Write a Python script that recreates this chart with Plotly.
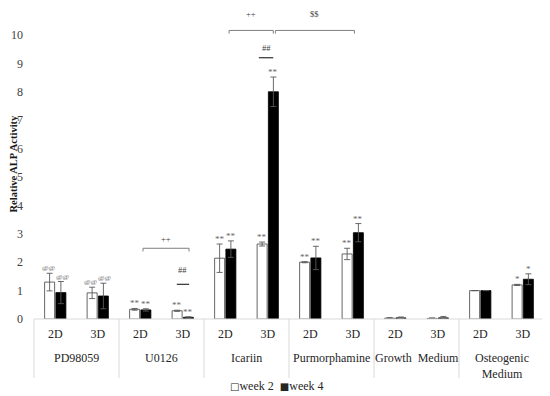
import plotly.graph_objects as go

# ---------------- data ----------------
groups = ["PD98059", "U0126", "Icariin", "Purmorphamine", "Growth  Medium", "Osteogenic<br>Medium"]
dims = ["2D", "3D"]
series_names = ["week 2", "week 4"]
week2 = [1.30, 0.92, 0.34, 0.29, 2.14, 2.64, 2.00, 2.29, 0.03, 0.02, 1.00, 1.20]
week2_err = [0.31, 0.20, 0.03, 0.02, 0.50, 0.07, 0.02, 0.20, 0.02, 0.02, 0.00, 0.02]
week4 = [0.93, 0.81, 0.32, 0.06, 2.46, 8.00, 2.15, 3.04, 0.04, 0.04, 1.00, 1.40]
week4_err = [0.39, 0.45, 0.04, 0.02, 0.29, 0.52, 0.41, 0.32, 0.03, 0.05, 0.00, 0.19]
week2_marks = ["@@", "@@", "**", "**", "**", "**", "**", "**", "", "", "", "*"]
week4_marks = ["@@", "@@", "**", "**", "**", "**", "**", "**", "", "", "", "*"]
y_ticks = list(range(0, 11))

n = len(week2)
xs = list(range(n))
ticktext = [dims[i % 2] for i in xs]

FONT = "Liberation Serif"
TXT = "#404040"

fig = go.Figure()
fig.add_trace(go.Bar(
    x=xs, y=week2, name=series_names[0],
    marker=dict(color="white", line=dict(color="#404040", width=0.8)),
    error_y=dict(type="data", array=week2_err, color="#595959", thickness=0.9, width=3),
))
fig.add_trace(go.Bar(
    x=xs, y=week4, name=series_names[1],
    marker=dict(color="black", line=dict(color="black", width=0.8)),
    error_y=dict(type="data", array=week4_err, color="#595959", thickness=0.9, width=3),
))

BARGAP, GROUPGAP = 0.47, 0.11
off = (1 - BARGAP) / 4.0

annotations = []
for i in xs:
    for vals, errs, marks, sgn in ((week2, week2_err, week2_marks, -1), (week4, week4_err, week4_marks, 1)):
        m = marks[i]
        if not m:
            continue
        at = m.startswith("@")
        annotations.append(dict(
            x=i + sgn * off, y=vals[i] + errs[i], xref="x", yref="y",
            text=m, showarrow=False, xanchor="center", yanchor="bottom",
            xshift=sgn * 1.2 if at else 0, yshift=0 if at else -1, borderpad=0,
            font=dict(family=FONT, size=7 if at else 9, color="#666666"),
        ))

# group labels below the axis
for g, name in enumerate(groups):
    annotations.append(dict(
        x=(g + 0.5) / len(groups), y=0, xref="paper", yref="paper",
        text=name, showarrow=False, xanchor="center", yanchor="top", yshift=-30,
        font=dict(family=FONT, size=12, color="#262626"),
    ))

# significance labels (text, x, y, anchor)
sig_text = [
    ("++", 2.6, 2.62, "bottom"),
    ("##", 3.0, 1.50, "bottom"),
    ("##", 4.96, 9.34, "bottom"),
    ("++", 4.6, 10.74, "middle"),
    ("&#36;&#36;", 6.1, 10.74, "middle"),
]
for t, x, y, ya in sig_text:
    annotations.append(dict(
        x=x, y=y, xref="x", yref="y", text=t, showarrow=False, borderpad=0,
        xanchor="center", yanchor=ya, font=dict(family=FONT, size=8.5, color="#404040"),
    ))

annotations.append(dict(
    x=0, y=0.5, xref="paper", yref="paper", text="<b>Relative ALP Activity</b>",
    textangle=-90, showarrow=False, xshift=-21, xanchor="center", yanchor="middle",
    font=dict(family=FONT, size=10.5, color="#1a1a1a"),
))

# legend drawn as text
annotations.append(dict(
    x=0.476, y=0, xref="paper", yref="paper", showarrow=False,
    text=f"<span style='font-family:DejaVu Sans;font-size:10px'>□</span>{series_names[0]}&nbsp;&nbsp;"
         f"<span style='font-family:DejaVu Sans;font-size:10px'>■</span>{series_names[1]}",
    xanchor="center", yanchor="middle", yshift=-67,
    font=dict(family=FONT, size=12, color="#262626"),
))

shapes = []
# brackets (x0, x1, y)
for x0, x1, y in [(2.065, 3.147, 2.49), (4.09, 5.13, 10.16), (5.18, 7.04, 10.16)]:
    shapes.append(dict(
        type="path", xref="x", yref="y",
        path=f"M {x0},{y-0.11} L {x0},{y} L {x1},{y} L {x1},{y-0.11}",
        line=dict(color="#7f7f7f", width=1),
    ))
# underlines for ##
for x0, x1, y in [(2.86, 3.15, 1.22), (4.79, 5.13, 9.20)]:
    shapes.append(dict(type="line", xref="x", yref="y", x0=x0, x1=x1, y0=y, y1=y,
                       line=dict(color="#404040", width=1.3)))
# category table lines
shapes.append(dict(type="line", xref="paper", yref="paper", x0=0, x1=1, y0=0, y1=0,
                   line=dict(color="#d9d9d9", width=1)))
for g in range(len(groups) + 1):
    xp = g / len(groups)
    shapes.append(dict(type="line", xref="paper", yref="paper", x0=xp, x1=xp, y0=0, y1=-0.19,
                       line=dict(color="#d9d9d9", width=1)))

fig.update_layout(
    width=542, height=388,
    margin=dict(l=26, r=6, t=0, b=77, autoexpand=False),
    paper_bgcolor="white", plot_bgcolor="white",
    barmode="group", bargap=BARGAP, bargroupgap=GROUPGAP,
    font=dict(family=FONT, size=12, color=TXT),
    xaxis=dict(
        range=[-0.5, n - 0.5], tickvals=xs, ticktext=ticktext, automargin=False,
        showgrid=False, zeroline=False, showline=False, ticks="",
        ticklabelstandoff=6, tickfont=dict(family=FONT, size=12, color="#262626"),
    ),
    yaxis=dict(
        range=[0, 10.95], tickvals=y_ticks, showgrid=False, zeroline=False, automargin=False,
        showline=False, ticks="", ticklabelstandoff=10,
        tickfont=dict(family=FONT, size=12, color="#404040"),
    ),
    showlegend=False,
    annotations=annotations, shapes=shapes,
)

fig.write_html("out.html")
